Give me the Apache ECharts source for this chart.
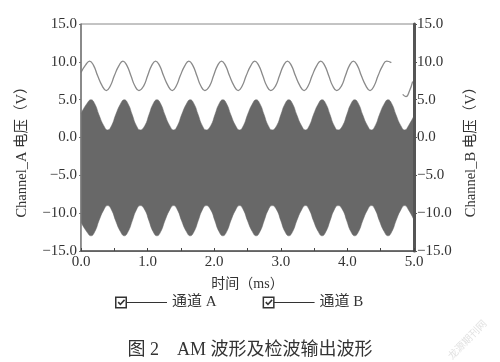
<!DOCTYPE html>
<html><head><meta charset="utf-8">
<script src="https://cdn.jsdelivr.net/npm/echarts@6/dist/echarts.min.js"></script>
<style>html,body{margin:0;padding:0;background:#fff}#c{width:500px;height:362px}</style>
</head><body><div id="c"></div>
<script>
// Time (ms) of envelope sample points for channel A (peaks, troughs and points between)
const tA = [0, 0.09, 0.15, 0.21, 0.27, 0.34, 0.40, 0.46, 0.52, 0.59,
  0.65, 0.71, 0.77, 0.83, 0.89, 0.96, 1.02, 1.08,
  1.14, 1.20, 1.26, 1.33, 1.39, 1.45, 1.51, 1.58,
  1.64, 1.70, 1.76, 1.82, 1.88, 1.95, 2.01, 2.07,
  2.13, 2.19, 2.25, 2.32, 2.38, 2.44, 2.50, 2.57,
  2.63, 2.69, 2.75, 2.81, 2.87, 2.94, 3.00, 3.06,
  3.12, 3.18, 3.24, 3.31, 3.37, 3.43, 3.49, 3.56,
  3.62, 3.68, 3.74, 3.80, 3.86, 3.93, 3.99, 4.05,
  4.11, 4.17, 4.23, 4.30, 4.36, 4.42, 4.48, 4.55,
  4.61, 4.67, 4.73, 4.80, 4.86, 4.92, 5.00];
// Upper envelope of AM signal (V)
const upperA = [3.2, 4.5, 5, 4.4, 3, 1.6, 1, 1.6, 3, 4.4,
  5, 4.4, 3, 1.6, 1, 1.6, 3, 4.4,
  5, 4.4, 3, 1.6, 1, 1.6, 3, 4.4,
  5, 4.4, 3, 1.6, 1, 1.6, 3, 4.4,
  5, 4.4, 3, 1.6, 1, 1.6, 3, 4.4,
  5, 4.4, 3, 1.6, 1, 1.6, 3, 4.4,
  5, 4.4, 3, 1.6, 1, 1.6, 3, 4.4,
  5, 4.4, 3, 1.6, 1, 1.6, 3, 4.4,
  5, 4.4, 3, 1.6, 1, 1.6, 3, 4.4,
  5, 4.4, 3, 1.6, 1, 1.6, 2.9];
// Lower envelope of AM signal (V)
const lowerA = [-11.2, -12.5, -13, -12.4, -11, -9.6, -9, -9.6, -11, -12.4,
  -13, -12.4, -11, -9.6, -9, -9.6, -11, -12.4,
  -13, -12.4, -11, -9.6, -9, -9.6, -11, -12.4,
  -13, -12.4, -11, -9.6, -9, -9.6, -11, -12.4,
  -13, -12.4, -11, -9.6, -9, -9.6, -11, -12.4,
  -13, -12.4, -11, -9.6, -9, -9.6, -11, -12.4,
  -13, -12.4, -11, -9.6, -9, -9.6, -11, -12.4,
  -13, -12.4, -11, -9.6, -9, -9.6, -11, -12.4,
  -13, -12.4, -11, -9.6, -9, -9.6, -11, -12.4,
  -13, -12.4, -11, -9.6, -9, -9.6, -10.9];
// Channel B (demodulated output)
const tB = [0, 0.07, 0.13, 0.19, 0.25, 0.32, 0.38, 0.44, 0.50, 0.57,
  0.63, 0.69, 0.75, 0.81, 0.87, 0.94, 1.00, 1.06,
  1.12, 1.18, 1.24, 1.31, 1.37, 1.43, 1.49, 1.56,
  1.62, 1.68, 1.74, 1.80, 1.86, 1.93, 1.99, 2.05,
  2.11, 2.17, 2.23, 2.30, 2.36, 2.42, 2.48, 2.55,
  2.61, 2.67, 2.73, 2.79, 2.85, 2.92, 2.98, 3.04,
  3.10, 3.16, 3.22, 3.29, 3.35, 3.41, 3.47, 3.54,
  3.60, 3.66, 3.72, 3.78, 3.84, 3.91, 3.97, 4.03,
  4.09, 4.15, 4.21, 4.28, 4.34, 4.40, 4.46, 4.53,
  4.59, 4.66, 4.70, 4.83, 4.88, 4.93, 4.98];
const vB = [8.6, 9.6, 10.1, 9.5, 8.15, 6.8, 6.2, 6.8, 8.15, 9.5,
  10.1, 9.5, 8.15, 6.8, 6.2, 6.8, 8.15, 9.5,
  10.1, 9.5, 8.15, 6.8, 6.2, 6.8, 8.15, 9.5,
  10.1, 9.5, 8.15, 6.8, 6.2, 6.8, 8.15, 9.5,
  10.1, 9.5, 8.15, 6.8, 6.2, 6.8, 8.15, 9.5,
  10.1, 9.5, 8.15, 6.8, 6.2, 6.8, 8.15, 9.5,
  10.1, 9.5, 8.15, 6.8, 6.2, 6.8, 8.15, 9.5,
  10.1, 9.5, 8.15, 6.8, 6.2, 6.8, 8.15, 9.5,
  10.1, 9.5, 8.15, 6.8, 6.2, 6.8, 8.15, 9.5,
  10.1, 9.9, null, 5.7, 5.4, 6.1, 7.4];
const xTicks = [0, 1, 2, 3, 4, 5];
const yTicks = [-15, -10, -5, 0, 5, 10, 15];
const legendNames = ['通道 A', '通道 B'];

const FONT = "'Liberation Serif', 'Times New Roman', 'Noto Sans CJK SC', serif";
const fmtY = v => (v < 0 ? '\u2212' : '') + Math.abs(v).toFixed(1);
const upperData = tA.map((t, i) => [t, upperA[i]]);
const lowerData = tA.map((t, i) => [t, lowerA[i]]);
const bData = tB.map((t, i) => [t, vB[i] === null ? null : vB[i]]);
const iconPath = 'path://M0,0H12V12H0Z M1.5,1.5V10.5H10.5V1.5Z M2.6,6.2L3.8,5L5.4,6.7L9,2.8L10.1,3.9L5.4,9Z M12,5.4H52V6.6H12Z';
const DARK = '#686868';

const chart = echarts.init(document.getElementById('c'), null, {renderer: 'canvas'});
const yAxisCommon = {
  type: 'value', min: yTicks[0], max: yTicks[yTicks.length - 1], interval: 5, z: 5,
  nameLocation: 'middle',
  axisLabel: {formatter: fmtY, fontFamily: FONT, fontSize: 15, color: '#333'},
  splitLine: {show: false},
};
chart.setOption({
  animation: false,
  title: {
    text: '图 2　AM 波形及检波输出波形', left: 'center', top: 336,
    textStyle: {fontFamily: FONT, fontSize: 18, fontWeight: 'normal', color: '#333'}
  },
  grid: {left: 81, right: 86, top: 24, bottom: 111, show: true, borderColor: '#888', borderWidth: 1},
  legend: {
    left: 110, top: 290, itemWidth: 52, itemHeight: 12, itemGap: 46, selectedMode: false,
    textStyle: {fontFamily: FONT, fontSize: 15, color: '#333'},
    data: legendNames.map(n => ({name: n, icon: iconPath, itemStyle: {color: '#333', borderWidth: 0}}))
  },
  xAxis: {
    type: 'value', min: xTicks[0], max: xTicks[xTicks.length - 1], interval: 1, z: 5,
    name: '时间（ms）', nameLocation: 'middle', nameGap: 26,
    nameTextStyle: {fontFamily: FONT, fontSize: 14, color: '#333'},
    axisLine: {onZero: false, lineStyle: {color: '#444', width: 1.5}},
    axisTick: {inside: true, length: 3, lineStyle: {color: '#444'}},
    minorTick: {show: true, splitNumber: 2, length: 3, lineStyle: {color: '#444'}},
    axisLabel: {formatter: v => v.toFixed(1), fontFamily: FONT, fontSize: 15, color: '#333', margin: 4},
    splitLine: {show: false}
  },
  yAxis: [
    Object.assign({}, yAxisCommon, {
      position: 'left', name: 'Channel_A 电压（V）', nameGap: 52,
      nameTextStyle: {fontFamily: FONT, fontSize: 14.5, color: '#333', padding: [0, 22, 0, 0]},
      axisLine: {show: true, onZero: false, lineStyle: {color: '#777', width: 1.5}},
      axisTick: {show: true, length: 2, lineStyle: {color: '#777'}},
      axisLabel: Object.assign({}, yAxisCommon.axisLabel, {margin: 4})
    }),
    Object.assign({}, yAxisCommon, {
      position: 'right', name: 'Channel_B 电压（V）', nameGap: 50,
      nameTextStyle: {fontFamily: FONT, fontSize: 14.5, color: '#333', padding: [0, 22, 0, 0]},
      axisLine: {show: true, onZero: false, lineStyle: {color: '#555', width: 3}},
      axisTick: {show: true, length: 3, lineStyle: {color: '#555'}},
      axisLabel: Object.assign({}, yAxisCommon.axisLabel, {margin: 3})
    })
  ],
  series: [
    {
      name: legendNames[0], type: 'line', data: upperData, smooth: true,
      symbol: 'none', color: DARK,
      lineStyle: {width: 0.5, color: DARK},
      areaStyle: {color: DARK, opacity: 1, origin: 'start'}
    },
    {
      name: 'A_lower', type: 'line', data: lowerData, smooth: true,
      symbol: 'none', color: DARK, silent: true,
      lineStyle: {width: 0.5, color: DARK},
      areaStyle: {color: '#ffffff', opacity: 1, origin: 'start'}
    },
    {
      name: legendNames[1], type: 'line', yAxisIndex: 1, data: bData, smooth: true,
      symbol: 'none', color: '#8a8a8a', connectNulls: false,
      lineStyle: {width: 1.3, color: '#8a8a8a'}
    }
  ],
  graphic: [{
    type: 'text', left: 446, top: 318, rotation: 0.8,
    style: {text: '龙源期刊网', fill: '#e2e2e2', fontSize: 10, fontFamily: "'Noto Sans CJK SC', sans-serif"}
  }]
});
</script>
</body></html>
